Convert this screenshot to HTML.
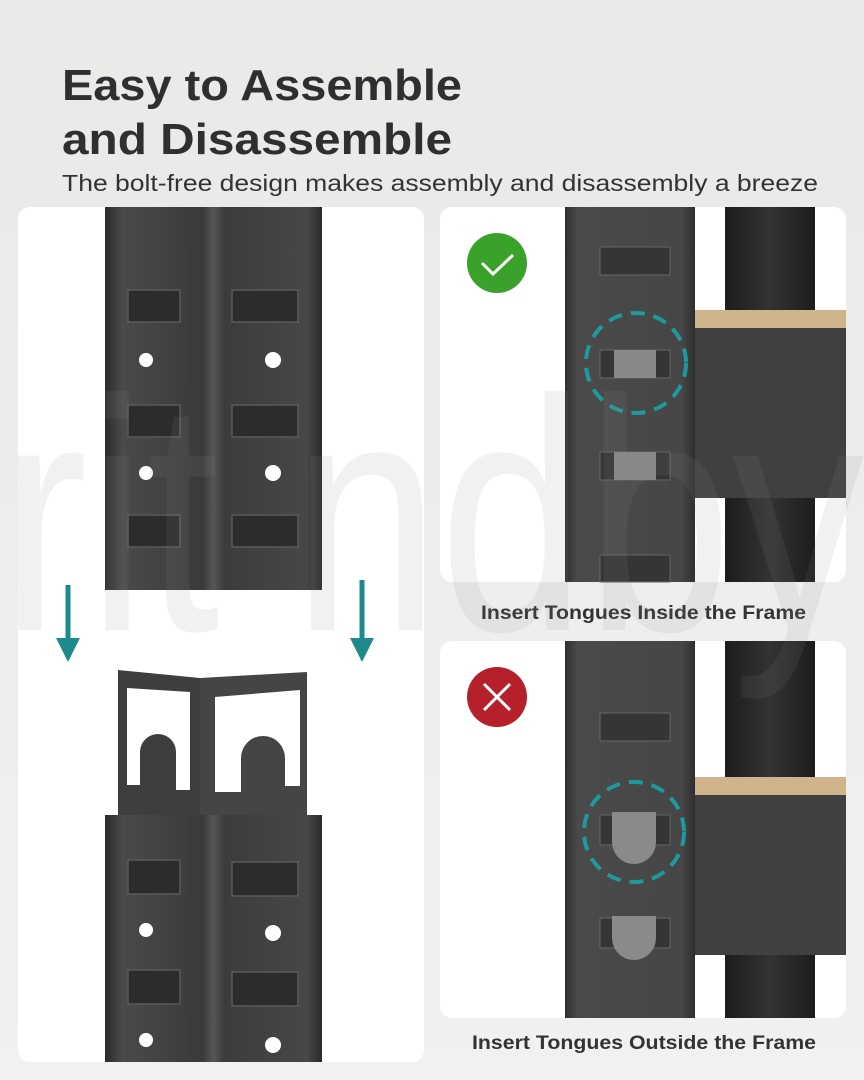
<!DOCTYPE html>
<html><head><meta charset="utf-8"><style>
html,body{margin:0;padding:0}
body{width:864px;height:1080px;overflow:hidden;background:linear-gradient(#e9e9e7,#f1f1ef);font-family:"Liberation Sans",sans-serif}
svg{display:block}
</style></head><body>
<svg width="864" height="1080" viewBox="0 0 864 1080" xmlns="http://www.w3.org/2000/svg">
<defs>
<linearGradient id="post" x1="0" x2="1">
<stop offset="0" stop-color="#2a2a2a"/><stop offset="0.08" stop-color="#4a4a4a"/><stop offset="0.45" stop-color="#3a3a3a"/><stop offset="0.5" stop-color="#555"/><stop offset="0.55" stop-color="#3c3c3c"/><stop offset="0.93" stop-color="#474747"/><stop offset="1" stop-color="#2a2a2a"/>
</linearGradient>
<linearGradient id="rpost" x1="0" x2="1">
<stop offset="0" stop-color="#2e2e2e"/><stop offset="0.1" stop-color="#4a4a4a"/><stop offset="0.9" stop-color="#464646"/><stop offset="1" stop-color="#2e2e2e"/>
</linearGradient>
<linearGradient id="pole" x1="0" x2="1">
<stop offset="0" stop-color="#1c1c1c"/><stop offset="0.5" stop-color="#333"/><stop offset="1" stop-color="#1c1c1c"/>
</linearGradient>
</defs>
<text x="62" y="100" font-size="44" font-weight="bold" fill="#2f2f2f" textLength="400" lengthAdjust="spacingAndGlyphs">Easy to Assemble</text>
<text x="62" y="154" font-size="44" font-weight="bold" fill="#2f2f2f" textLength="390" lengthAdjust="spacingAndGlyphs">and Disassemble</text>
<text x="62" y="191" font-size="23" fill="#333" textLength="756" lengthAdjust="spacingAndGlyphs">The bolt-free design makes assembly and disassembly a breeze</text>

<rect x="18" y="207" width="406" height="855" rx="12" fill="#fff"/>
<rect x="440" y="207" width="406" height="375" rx="12" fill="#fff"/>
<rect x="440" y="641" width="406" height="377" rx="12" fill="#fff"/>

<rect x="105" y="207" width="217" height="383" fill="url(#post)"/>
<g fill="#2c2c2c" stroke="#5a5a5a" stroke-width="1.5">
<rect x="128" y="290" width="52" height="32"/><rect x="128" y="405" width="52" height="32"/><rect x="128" y="515" width="52" height="32"/>
<rect x="232" y="290" width="66" height="32"/><rect x="232" y="405" width="66" height="32"/><rect x="232" y="515" width="66" height="32"/>
</g>
<g fill="#fff"><circle cx="146" cy="360" r="7"/><circle cx="146" cy="473" r="7"/><circle cx="273" cy="360" r="8"/><circle cx="273" cy="473" r="8"/></g>

<g stroke="#1f8a8c" stroke-width="5" fill="#1f8a8c">
<line x1="68" y1="585" x2="68" y2="645"/><line x1="362" y1="580" x2="362" y2="645"/>
</g>
<polygon points="56,638 80,638 68,662" fill="#1f8a8c"/><polygon points="350,638 374,638 362,662" fill="#1f8a8c"/>

<path fill-rule="evenodd" fill="#3e3e3e" d="M118 670 L200 678 L200 820 L118 815 Z M127 688 L190 692 L190 790 L176 790 L176 752 A18 18 0 0 0 140 752 L140 785 L127 785 Z"/>
<path fill-rule="evenodd" fill="#454545" d="M200 678 L307 672 L307 815 L200 822 Z M215 697 L300 690 L300 786 L285 786 L285 758 A22 22 0 0 0 241 758 L241 792 L215 792 Z"/>
<rect x="105" y="815" width="217" height="247" fill="url(#post)"/>
<g fill="#2c2c2c" stroke="#5a5a5a" stroke-width="1.5">
<rect x="128" y="860" width="52" height="34"/><rect x="128" y="970" width="52" height="34"/>
<rect x="232" y="862" width="66" height="34"/><rect x="232" y="972" width="66" height="34"/>
</g>
<g fill="#fff"><circle cx="146" cy="930" r="7"/><circle cx="146" cy="1040" r="7"/><circle cx="273" cy="933" r="8"/><circle cx="273" cy="1045" r="8"/></g>

<rect x="725" y="207" width="90" height="375" fill="url(#pole)"/>
<rect x="695" y="310" width="151" height="18" fill="#cfb48a"/>
<rect x="695" y="328" width="151" height="170" fill="#404040"/>
<rect x="565" y="207" width="130" height="375" fill="url(#rpost)"/>
<g fill="#353535" stroke="#666" stroke-width="1"><rect x="600" y="247" width="70" height="28"/><rect x="600" y="350" width="70" height="28"/><rect x="600" y="452" width="70" height="28"/><rect x="600" y="555" width="70" height="27"/></g>
<rect x="614" y="350" width="42" height="28" fill="#888"/><rect x="614" y="452" width="42" height="28" fill="#888"/>
<circle cx="636" cy="363" r="50" fill="none" stroke="#1f9a9c" stroke-width="4" stroke-dasharray="14 9"/>
<circle cx="497" cy="263" r="30" fill="#3aa12a"/>
<polyline points="482,263 493,274 513,255" fill="none" stroke="#fff" stroke-width="3"/>
<text x="481" y="619" font-size="19" font-weight="bold" fill="#333" textLength="325" lengthAdjust="spacingAndGlyphs">Insert Tongues Inside the Frame</text>

<rect x="725" y="641" width="90" height="377" fill="url(#pole)"/>
<rect x="695" y="777" width="151" height="18" fill="#cfb48a"/>
<rect x="695" y="795" width="151" height="160" fill="#404040"/>
<rect x="565" y="641" width="130" height="377" fill="url(#rpost)"/>
<g fill="#353535" stroke="#666" stroke-width="1"><rect x="600" y="713" width="70" height="28"/><rect x="600" y="815" width="70" height="30"/><rect x="600" y="918" width="70" height="30"/></g>
<path d="M612 812 H656 V842 A22 22 0 0 1 612 842 Z" fill="#8a8a8a"/>
<path d="M612 916 H656 V938 A22 22 0 0 1 612 938 Z" fill="#8a8a8a"/>
<circle cx="634" cy="832" r="50" fill="none" stroke="#1f9a9c" stroke-width="4" stroke-dasharray="14 9"/>
<circle cx="497" cy="697" r="30" fill="#b5202a"/>
<line x1="484" y1="684" x2="510" y2="710" stroke="#fff" stroke-width="3"/><line x1="510" y1="684" x2="484" y2="710" stroke="#fff" stroke-width="3"/>
<text x="472" y="1049" font-size="19" font-weight="bold" fill="#333" textLength="344" lengthAdjust="spacingAndGlyphs">Insert Tongues Outside the Frame</text>

<text x="0" y="630" font-size="330" fill="#888" fill-opacity="0.12" textLength="864" lengthAdjust="spacingAndGlyphs">rit ndby</text>
</svg>
</body></html>
